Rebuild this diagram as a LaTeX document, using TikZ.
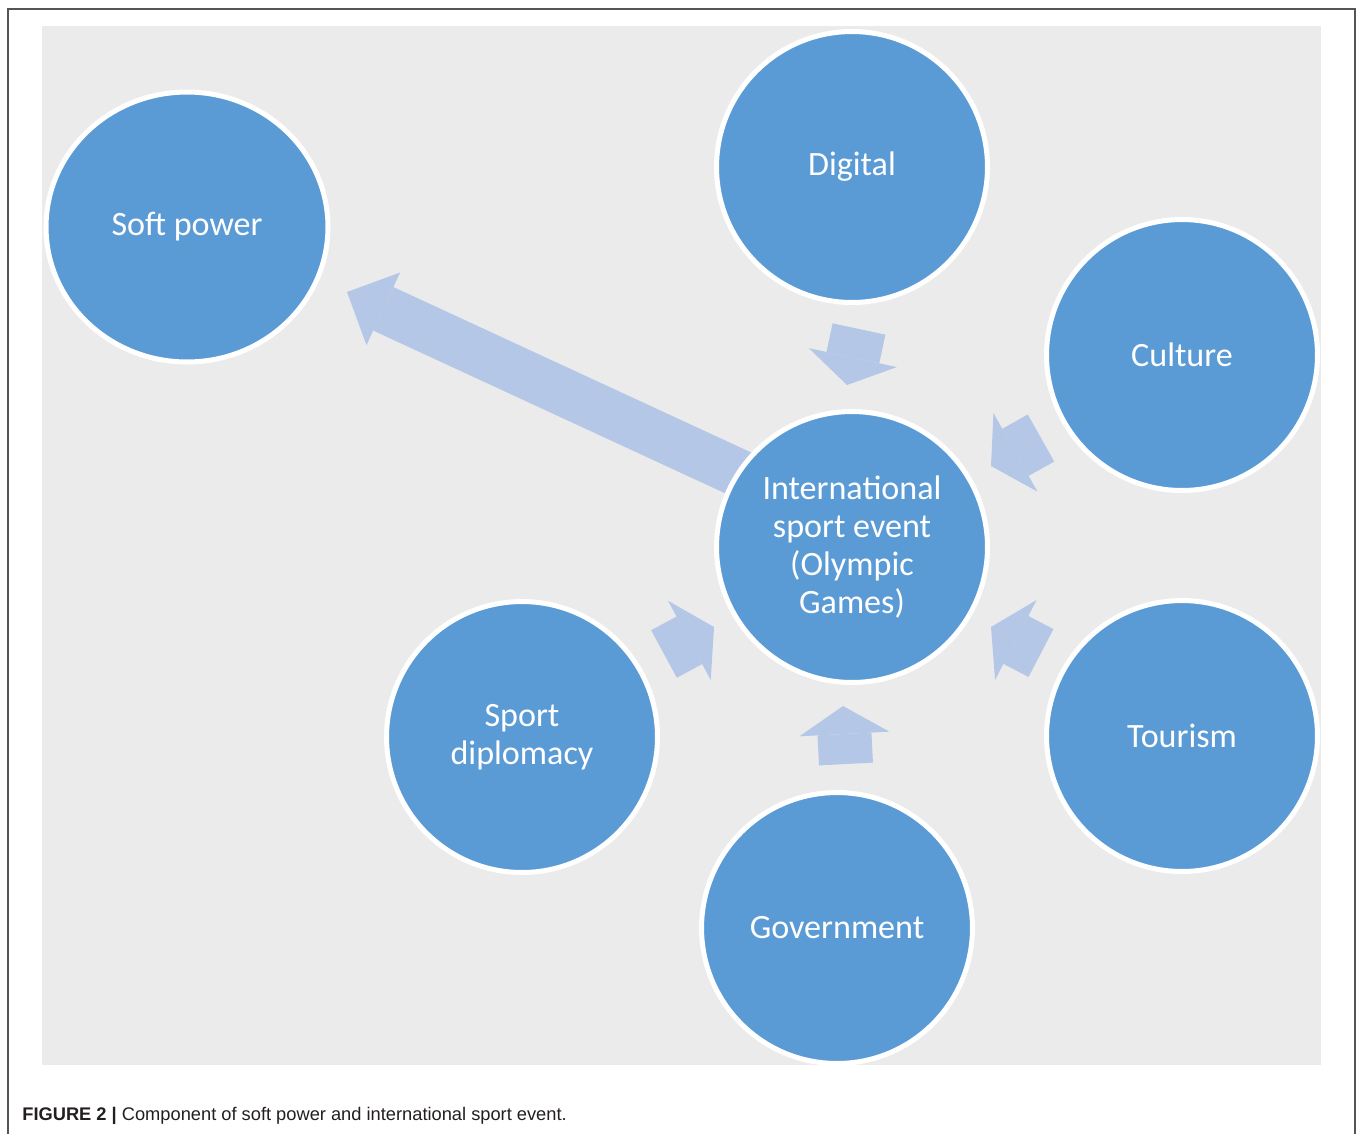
\documentclass[tikz,border=0pt]{standalone}
\usepackage{fontspec}
\setmainfont{Carlito}
\newfontfamily\capfont{Liberation Sans}
\usetikzlibrary{arrows.meta,shapes.geometric,backgrounds}
\definecolor{bubble}{HTML}{5B9BD5}
\definecolor{pale}{HTML}{B4C7E7}
\definecolor{panel}{HTML}{EBEBEB}
\definecolor{frameline}{HTML}{555555}
\definecolor{captext}{HTML}{231F20}

\begin{document}
\begin{tikzpicture}[x=0.02cm, y=-0.02cm,
    bubble/.style={circle, fill=bubble, draw=white, line width=0.1cm, minimum size=5.42cm, inner sep=0pt,
        text=white, align=center, font=\fontsize{19.4}{21.7}\selectfont},
    feed/.style={draw=pale, line width=1.08cm, -{Triangle[length=0.56cm, width=1.8cm, line width=0pt]}},
    spread/.style={draw=pale, line width=0.96cm, -{Triangle[length=0.8cm, width=1.6cm, line width=0pt]}}]
    \useasboundingbox (0,0) rectangle (1358,1134);

    % circles
    \node[bubble, ellipse, minimum width=5.64cm, minimum height=5.4cm] (soft) at (187,227) {Soft power};
    \node[bubble] (digital) at (852,167) {Digital};
    \node[bubble] (culture) at (1182,355) {Culture};
    \node[bubble] (event) at (852,547) {International\\sport event\\(Olympic\\Games)};
    \node[bubble] (diplomacy) at (522,737) {Sport\\diplomacy};
    \node[bubble] (tourism) at (1182,736) {Tourism};
    \node[bubble] (government) at (837,928) {Government};

    % arrow ends
    \coordinate (spreadtail) at (773,489);
    \coordinate (spreadtip) at (347,292);
    \coordinate (digitaltail) at (859,329);
    \coordinate (digitaltip) at (847,385);
    \coordinate (culturetail) at (1041,438);
    \coordinate (culturetip) at (991,466);
    \coordinate (tourismtail) at (1041,653);
    \coordinate (tourismtip) at (991,627);
    \coordinate (governmenttail) at (846,764);
    \coordinate (governmenttip) at (843,706);
    \coordinate (diplomacytail) at (664,654);
    \coordinate (diplomacytip) at (714,627);

    \begin{scope}[on background layer]
        \fill[panel] (42,26) rectangle (1321,1065);
        \draw[spread] (spreadtail) -- (spreadtip);
        \draw[feed] (digitaltail) -- (digitaltip);
        \draw[feed] (culturetail) -- (culturetip);
        \draw[feed] (tourismtail) -- (tourismtip);
        \draw[feed] (governmenttail) -- (governmenttip);
        \draw[feed] (diplomacytail) -- (diplomacytip);
    \end{scope}

    % frame and caption
    \draw[frameline, line width=0.04cm] (8,1134) |- (1355,9) -- (1355,1134);
    \node[anchor=base west, inner sep=0pt, text=captext, font=\capfont\fontsize{10.4}{12}\selectfont] (caption) at (22,1120)
        {\textbf{FIGURE 2 |} Component of soft power and international sport event.};
\end{tikzpicture}
\end{document}
